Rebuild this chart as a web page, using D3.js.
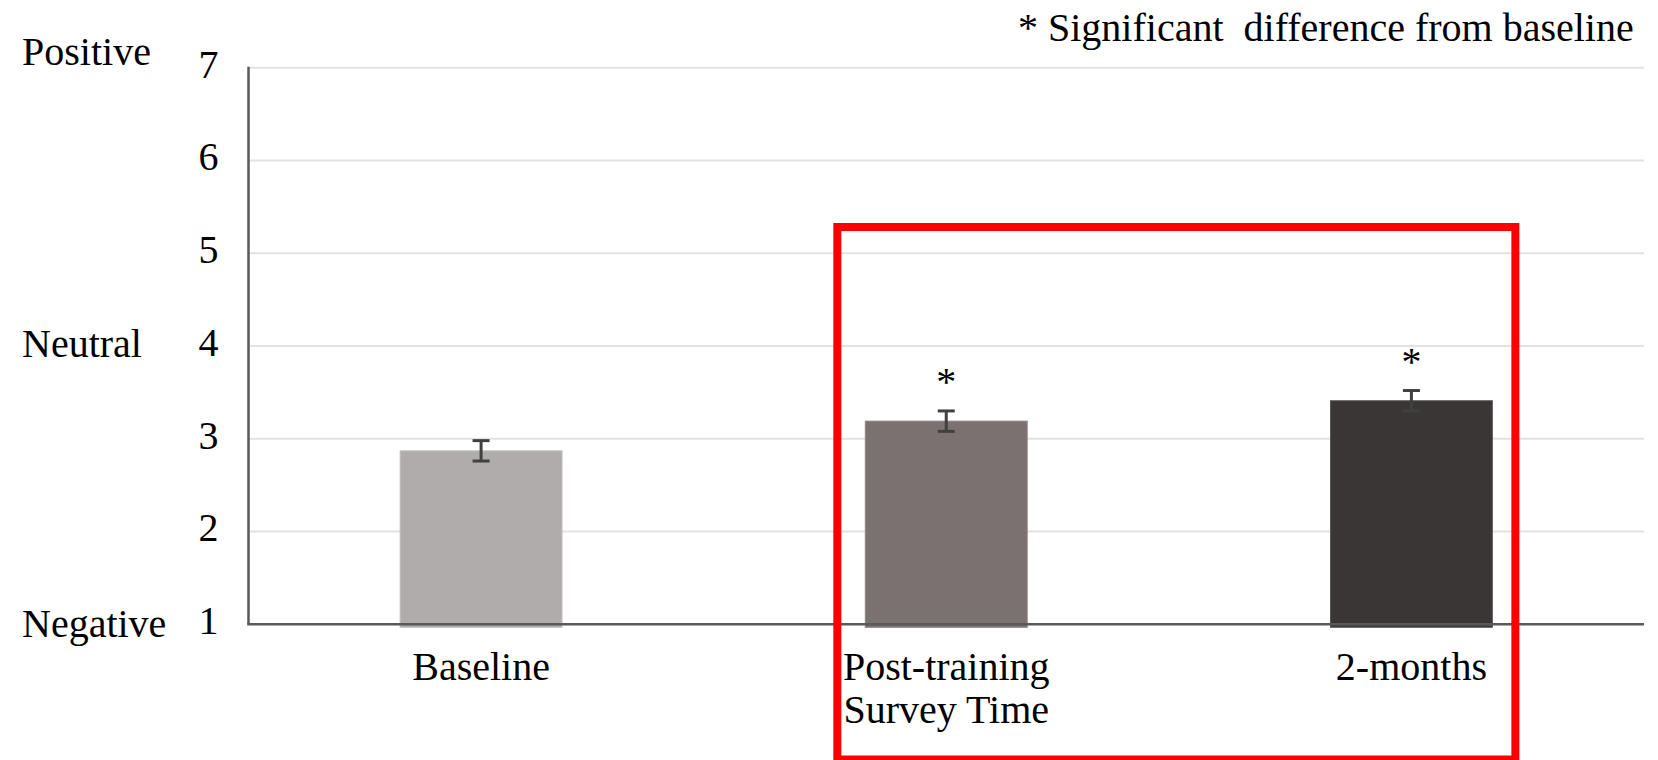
<!DOCTYPE html>
<html>
<head>
<meta charset="utf-8">
<script src="https://cdn.jsdelivr.net/npm/d3@7/dist/d3.min.js"></script>
<style>
  html, body { margin: 0; padding: 0; background: #ffffff; }
  svg { display: block; }
  text { font-family: "Liberation Serif", "Times New Roman", serif; fill: #000; }
</style>
</head>
<body>
<svg id="chart" width="1658" height="760"></svg>
<script>
// Survey time points and mean attitude ratings (1 = negative, 7 = positive)
const categories = ["Baseline", "Post-training", "2-months"];
const categoryLines = [["Baseline"], ["Post-training", "Survey Time"], ["2-months"]];
const means = [2.87, 3.19, 3.41];
const errors = [0.11, 0.11, 0.11];
const significant = [false, true, true];
const yTicks = [1, 2, 3, 4, 5, 6, 7];
const anchorLabels = ["Positive", "Neutral", "Negative"];
const anchorValues = [7, 4, 1];
const noteText = "* Significant  difference from baseline";

const barFills = ["#b0acab", "#7a7170", "#3a3635"];
const barStrokes = ["#c2bfbe", "#8c8483", "#5a5757"];

const svg = d3.select("#chart");
const plotLeft = 248.5, plotRight = 1644, plotTop = 67.7, plotBottom = 624.3;

const x = d3.scaleBand().domain(categories).range([plotLeft, plotRight]).padding(0);
const y = d3.scaleLinear().domain([1, 7]).range([plotBottom, plotTop]);
const barW = x.bandwidth() * 0.348;
const cx = c => x(c) + x.bandwidth() / 2;

// Horizontal gridlines
svg.append("g").selectAll("line")
  .data(yTicks.filter(t => t !== 1))
  .join("line")
  .attr("x1", plotLeft).attr("x2", plotRight)
  .attr("y1", d => y(d)).attr("y2", d => y(d))
  .attr("stroke", "#e2e2e2").attr("stroke-width", 2);

// Bars
svg.append("g").selectAll("rect")
  .data(categories)
  .join("rect")
  .attr("x", c => cx(c) - barW / 2)
  .attr("width", barW)
  .attr("y", (c, i) => y(means[i]))
  .attr("height", (c, i) => y(1) - y(means[i]) + 3)
  .attr("fill", (c, i) => barFills[i])
  .attr("stroke", (c, i) => barStrokes[i])
  .attr("stroke-width", 1);

// Error bars
const eb = svg.append("g").attr("stroke", "#404040").attr("stroke-width", 3);
categories.forEach((c, i) => {
  const xc = cx(c), hi = y(means[i] + errors[i]), lo = y(means[i] - errors[i]);
  eb.append("line").attr("x1", xc).attr("x2", xc).attr("y1", hi).attr("y2", lo);
  eb.append("line").attr("x1", xc - 8.5).attr("x2", xc + 8.5).attr("y1", hi).attr("y2", hi);
  eb.append("line").attr("x1", xc - 8.5).attr("x2", xc + 8.5).attr("y1", lo).attr("y2", lo);
});

// Significance markers
svg.append("g").selectAll("text")
  .data(categories.filter((c, i) => significant[i]))
  .join("text")
  .attr("x", c => cx(c))
  .attr("y", c => { const i = categories.indexOf(c); return y(means[i] + errors[i]) - 16; })
  .attr("text-anchor", "middle")
  .attr("font-size", 40)
  .text("*");

// Y axis tick labels
const yAxis = d3.axisLeft(y).tickValues(yTicks).tickSize(0).tickPadding(30).tickFormat(d3.format("d"));
const gy = svg.append("g").attr("transform", `translate(${plotLeft},0)`).call(yAxis);
gy.select(".domain").remove();
gy.selectAll("text")
  .attr("font-size", 40)
  .attr("font-family", "Liberation Serif, Times New Roman, serif")
  .attr("fill", "#000")
  .attr("y", -3.5);

// Axis lines
svg.append("line").attr("x1", plotLeft).attr("x2", plotLeft).attr("y1", plotTop - 1).attr("y2", plotBottom)
  .attr("stroke", "#595959").attr("stroke-width", 2.5);
svg.append("line").attr("x1", plotLeft - 1.25).attr("x2", plotRight).attr("y1", plotBottom).attr("y2", plotBottom)
  .attr("stroke", "#595959").attr("stroke-width", 2.5);

// Scale anchor words
const anchorNudge = [-2.7, 11, 12.7];
svg.append("g").selectAll("text")
  .data(anchorLabels)
  .join("text")
  .attr("x", 22)
  .attr("y", (d, i) => y(anchorValues[i]) + anchorNudge[i])
  .attr("font-size", 40)
  .text(d => d);

// Category labels
const cat = svg.append("g");
categories.forEach((c, i) => {
  const t = cat.append("text")
    .attr("x", cx(c)).attr("y", 680)
    .attr("text-anchor", "middle").attr("font-size", 40);
  categoryLines[i].forEach((line, j) => {
    t.append("tspan").attr("x", cx(c)).attr("dy", j === 0 ? 0 : 43).text(line);
  });
});

// Significance note
svg.append("text")
  .attr("x", 1018).attr("y", 41)
  .attr("font-size", 40)
  .style("white-space", "pre")
  .text(noteText);

// Highlight box around the follow-up time points
const boxL = cx(categories[1]) - barW / 2 - 28;
const boxR = cx(categories[2]) + barW / 2 + 23;
svg.append("rect")
  .attr("x", boxL)
  .attr("y", 227)
  .attr("width", boxR - boxL)
  .attr("height", 532.5)
  .attr("fill", "none")
  .attr("stroke", "#ff0000")
  .attr("stroke-width", 8);
</script>
</body>
</html>
